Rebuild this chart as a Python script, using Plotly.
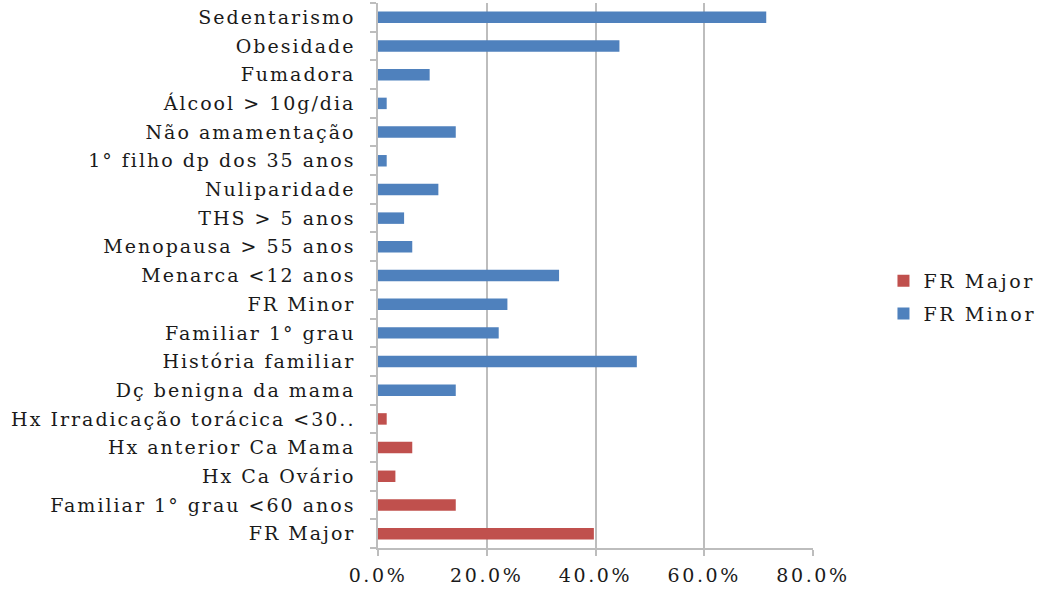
import plotly.graph_objects as go

categories = [
    "FR Major",
    "Familiar 1° grau <60 anos",
    "Hx Ca Ovário",
    "Hx anterior Ca Mama",
    "Hx Irradicação torácica <30..",
    "Dç benigna da mama",
    "História familiar",
    "Familiar 1° grau",
    "FR Minor",
    "Menarca <12 anos",
    "Menopausa > 55 anos",
    "THS > 5 anos",
    "Nuliparidade",
    "1° filho dp dos 35 anos",
    "Não amamentação",
    "Álcool > 10g/dia",
    "Fumadora",
    "Obesidade",
    "Sedentarismo",
]

fr_major = [0.397, 0.143, 0.032, 0.063, 0.016,
            None, None, None, None, None, None, None, None, None, None, None, None, None, None]
fr_minor = [None, None, None, None, None,
            0.143, 0.476, 0.222, 0.238, 0.333, 0.063, 0.048, 0.111, 0.016, 0.143, 0.016, 0.095, 0.444, 0.714]

x_ticks = [0, 0.2, 0.4, 0.6, 0.8]
x_tick_labels = ["0.0%", "20.0%", "40.0%", "60.0%", "80.0%"]

FONT = "DejaVu Serif"
TXT = "#1a1a1a"
GRID = "#bdbdbd"


def spaced(s, ls=2.0):
    return f'<span style="letter-spacing:{ls}px">{s}</span>'


fig = go.Figure()
fig.add_trace(go.Bar(y=categories, x=fr_major, orientation="h", name=spaced("FR Major", 2.6),
                     marker=dict(color="#C0504D", line=dict(width=0)), width=0.4,
                     legendgroup="a"))
fig.add_trace(go.Bar(y=categories, x=fr_minor, orientation="h", name=spaced("FR Minor", 2.6),
                     marker=dict(color="#4F81BD", line=dict(width=0)), width=0.4,
                     legendgroup="b"))

fig.update_layout(
    width=1051, height=590,
    margin=dict(l=378, r=238, t=3, b=42, autoexpand=False),
    paper_bgcolor="white", plot_bgcolor="white",
    barmode="overlay",
    font=dict(family=FONT, size=19, color=TXT),
    showlegend=True,
    legend=dict(x=1.162, xanchor="left", y=0.525, yanchor="top",
                font=dict(family=FONT, size=19, color=TXT),
                traceorder="grouped", tracegroupgap=5,
                bgcolor="rgba(0,0,0,0)"),
    xaxis=dict(range=[0, 0.8], tickvals=x_ticks,
               ticktext=[spaced(t, 2.6) for t in x_tick_labels],
               showgrid=True, gridcolor=GRID, gridwidth=1.5,
               showline=True, linecolor=GRID, linewidth=1.5,
               ticks="outside", ticklen=6, tickcolor=GRID, tickwidth=1.5,
               ticklabelstandoff=3, zeroline=False, fixedrange=True),
    yaxis=dict(categoryorder="array", categoryarray=categories,
               tickvals=categories, ticktext=[spaced(c) for c in categories],
               range=[-0.5, len(categories) - 0.5],
               showgrid=False, showline=True, linecolor=GRID, linewidth=1.5,
               ticks="outside", ticklen=6, tickcolor=GRID, tickwidth=1.5,
               tickson="boundaries", ticklabelstandoff=17, zeroline=False),
)

fig.write_html("out.html")
